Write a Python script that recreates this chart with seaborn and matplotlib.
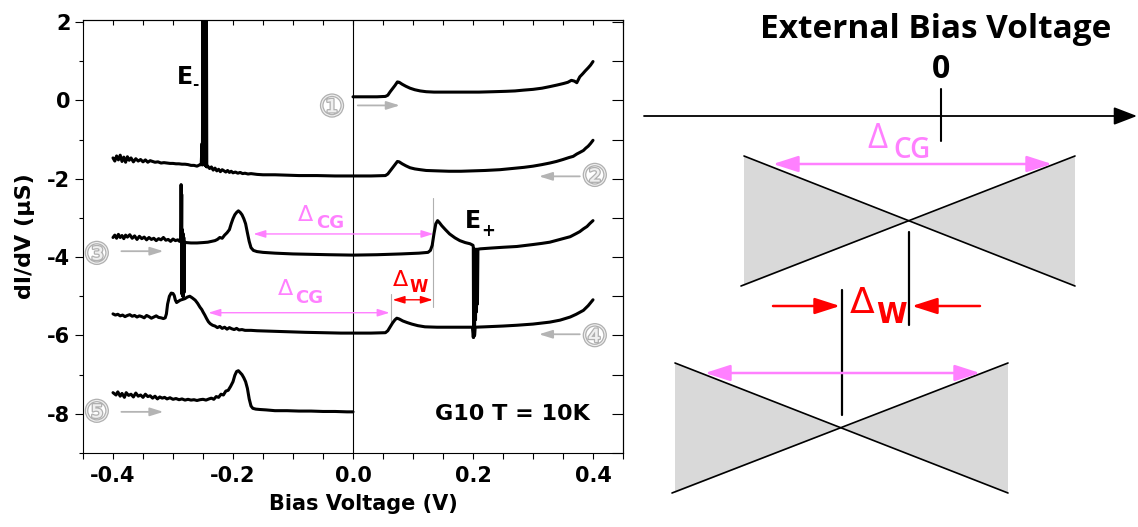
import numpy as np
import pandas as pd
import matplotlib
matplotlib.use("Agg")
import matplotlib.pyplot as plt
import matplotlib.patheffects as pe
from matplotlib.ticker import MultipleLocator, FormatStrFormatter
import seaborn as sns

sns.set_theme(style="white")
plt.rcParams["font.family"] = ["DejaVu Sans"]
plt.rcParams["axes.unicode_minus"] = False
for key in ("text.color", "axes.labelcolor", "xtick.color", "ytick.color", "axes.edgecolor"):
    plt.rcParams[key] = "black"

# ---------------- dI/dV spectra (bias in V, conductance in uS, offset) ----------------
curve1_v = [0.000, 0.020, 0.040, 0.054, 0.058, 0.062, 0.066, 0.070, 0.074, 0.077,
            0.082, 0.088, 0.095, 0.103, 0.112, 0.122, 0.135, 0.150, 0.170, 0.190,
            0.210, 0.234, 0.255, 0.270, 0.284, 0.300, 0.315, 0.328, 0.340, 0.351,
            0.358, 0.364, 0.369, 0.373, 0.378, 0.383, 0.387, 0.392, 0.396, 0.400]
curve1_g = [0.09, 0.09, 0.09, 0.10, 0.13, 0.22, 0.30, 0.38, 0.47, 0.46,
            0.41, 0.36, 0.31, 0.27, 0.24, 0.22, 0.21, 0.21, 0.21, 0.21,
            0.21, 0.22, 0.23, 0.24, 0.26, 0.28, 0.31, 0.35, 0.39, 0.43,
            0.46, 0.51, 0.49, 0.45, 0.60, 0.68, 0.75, 0.83, 0.90, 0.99]

curve2_v = [-0.400, -0.397, -0.394, -0.391, -0.388, -0.385, -0.382, -0.379, -0.376, -0.373,
            -0.370, -0.366, -0.362, -0.358, -0.354, -0.350, -0.346, -0.342, -0.338, -0.334,
            -0.330, -0.325, -0.320, -0.315, -0.310, -0.305, -0.300, -0.295, -0.290, -0.285,
            -0.280, -0.275, -0.270, -0.265, -0.260, -0.256, -0.253,
            -0.2515, -0.2510, -0.2500, -0.2493, -0.2486, -0.2479, -0.2472, -0.2465, -0.2458,
            -0.2451, -0.2444, -0.2437,
            -0.242, -0.239, -0.236, -0.233, -0.230, -0.227, -0.224, -0.221, -0.218, -0.215,
            -0.212, -0.209, -0.206, -0.203, -0.200, -0.196, -0.192, -0.188, -0.184, -0.180,
            -0.175, -0.170, -0.160, -0.150, -0.130, -0.110, -0.090, -0.060, -0.030, 0.000,
            0.030, 0.054, 0.058, 0.062, 0.066, 0.070, 0.074, 0.077, 0.082, 0.088,
            0.095, 0.103, 0.112, 0.122, 0.140, 0.160, 0.180, 0.200, 0.220, 0.245,
            0.265, 0.285, 0.300, 0.315, 0.328, 0.339, 0.350, 0.360, 0.367, 0.373,
            0.378, 0.384, 0.388, 0.392, 0.396, 0.400]
curve2_g = [-1.47, -1.55, -1.42, -1.52, -1.40, -1.56, -1.45, -1.58, -1.44, -1.53,
            -1.47, -1.57, -1.49, -1.55, -1.51, -1.57, -1.52, -1.58, -1.54, -1.56,
            -1.58, -1.57, -1.60, -1.59, -1.60, -1.61, -1.61, -1.62, -1.62, -1.63,
            -1.63, -1.64, -1.66, -1.66, -1.68, -1.65, -1.64,
            -1.10, -1.65, 3.00, -1.62, 3.00, -1.64, 3.00, -1.66, 3.00,
            -1.68, 3.00, -1.70,
            -1.68, -1.74, -1.70, -1.78, -1.73, -1.80, -1.76, -1.82, -1.77, -1.80,
            -1.83, -1.79, -1.84, -1.81, -1.85, -1.83, -1.86, -1.84, -1.87, -1.86,
            -1.88, -1.87, -1.89, -1.90, -1.90, -1.91, -1.92, -1.92, -1.93, -1.93,
            -1.93, -1.92, -1.88, -1.80, -1.72, -1.64, -1.56, -1.57, -1.62, -1.67,
            -1.72, -1.75, -1.77, -1.79, -1.80, -1.81, -1.81, -1.80, -1.79, -1.77,
            -1.74, -1.71, -1.68, -1.64, -1.60, -1.56, -1.51, -1.46, -1.43, -1.37,
            -1.33, -1.28, -1.22, -1.17, -1.10, -1.02]

curve3_v = [-0.400, -0.397, -0.394, -0.391, -0.388, -0.385, -0.382, -0.379, -0.376, -0.372,
            -0.368, -0.364, -0.360, -0.356, -0.352, -0.348, -0.344, -0.340, -0.336, -0.332,
            -0.328, -0.324, -0.320, -0.316, -0.312, -0.308, -0.304, -0.300, -0.296, -0.292,
            -0.289, -0.287,
            -0.2865, -0.2860, -0.2855, -0.2850, -0.2845, -0.2838, -0.2832, -0.2826, -0.2820,
            -0.2814, -0.2808,
            -0.278, -0.270, -0.260, -0.250, -0.242, -0.236, -0.230, -0.226, -0.222, -0.218,
            -0.214, -0.210, -0.206, -0.203, -0.200, -0.197, -0.194, -0.191, -0.188, -0.185,
            -0.182, -0.179, -0.176, -0.173, -0.170, -0.166, -0.160, -0.150, -0.130, -0.100,
            -0.070, -0.040, 0.000, 0.040, 0.080, 0.110, 0.125, 0.129, 0.132, 0.135,
            0.138, 0.141, 0.144, 0.148, 0.154, 0.161, 0.170, 0.178, 0.187, 0.195,
            0.200,
            0.2005, 0.2010, 0.2018, 0.2026, 0.2034, 0.2042, 0.2050, 0.2058, 0.2066, 0.2074,
            0.2082,
            0.212, 0.230, 0.250, 0.273, 0.300, 0.315, 0.328, 0.345, 0.362, 0.372,
            0.378, 0.384, 0.390, 0.395, 0.400]
curve3_g = [-3.50, -3.44, -3.52, -3.42, -3.50, -3.45, -3.53, -3.44, -3.49, -3.43,
            -3.52, -3.46, -3.55, -3.47, -3.53, -3.49, -3.56, -3.50, -3.55, -3.52,
            -3.58, -3.53, -3.56, -3.50, -3.57, -3.55, -3.60, -3.54, -3.58, -3.56,
            -3.60, -3.58,
            -2.15, -3.60, -2.40, -4.95, -3.30, -5.00, -3.40, -5.00, -3.50,
            -4.90, -3.62,
            -3.63, -3.64, -3.64, -3.63, -3.62, -3.60, -3.58, -3.55, -3.50, -3.52,
            -3.44, -3.38, -3.30, -3.15, -3.02, -2.92, -2.86, -2.82, -2.86, -2.92,
            -3.02, -3.15, -3.38, -3.60, -3.76, -3.83, -3.86, -3.88, -3.90, -3.92,
            -3.93, -3.94, -3.95, -3.94, -3.92, -3.90, -3.88, -3.83, -3.70, -3.40,
            -3.15, -3.07, -3.12, -3.20, -3.30, -3.41, -3.51, -3.58, -3.63, -3.66,
            -3.70,
            -3.75, -6.05, -3.80, -6.00, -3.80, -5.60, -3.80, -5.40, -3.80, -5.20,
            -3.80,
            -3.79, -3.77, -3.75, -3.73, -3.68, -3.65, -3.62, -3.55, -3.48, -3.40,
            -3.35, -3.28, -3.22, -3.14, -3.07]

curve4_v = [-0.400, -0.396, -0.392, -0.388, -0.384, -0.380, -0.376, -0.372, -0.368, -0.364,
            -0.360, -0.356, -0.352, -0.348, -0.344, -0.340, -0.336, -0.332, -0.328, -0.324,
            -0.320, -0.316, -0.313, -0.311, -0.309, -0.306, -0.303, -0.300, -0.298, -0.296,
            -0.294, -0.291, -0.288, -0.284, -0.280, -0.276, -0.272, -0.268, -0.263, -0.259,
            -0.255, -0.252, -0.250, -0.247, -0.244, -0.241, -0.238, -0.234, -0.230, -0.226,
            -0.222, -0.218, -0.214, -0.210, -0.206, -0.202, -0.198, -0.194, -0.190, -0.185,
            -0.180, -0.170, -0.160, -0.140, -0.120, -0.100, -0.080, -0.050, -0.020, 0.000,
            0.030, 0.054, 0.058, 0.062, 0.066, 0.070, 0.073, 0.077, 0.083, 0.090,
            0.098, 0.108, 0.120, 0.140, 0.160, 0.180, 0.199,
            0.2005, 0.2015, 0.2025, 0.2035,
            0.220, 0.250, 0.273, 0.300, 0.328, 0.345, 0.362, 0.372, 0.384, 0.392,
            0.400]
curve4_g = [-5.45, -5.48, -5.46, -5.50, -5.48, -5.52, -5.49, -5.47, -5.51, -5.49,
            -5.53, -5.50, -5.52, -5.55, -5.49, -5.52, -5.56, -5.53, -5.50, -5.54,
            -5.55, -5.57, -5.55, -5.45, -5.20, -5.00, -4.92, -4.93, -4.98, -5.10,
            -5.16, -5.13, -5.10, -5.08, -5.06, -5.02, -5.00, -5.04, -5.10, -5.18,
            -5.28, -5.34, -5.40, -5.48, -5.57, -5.65, -5.70, -5.74, -5.76, -5.80,
            -5.77, -5.82, -5.79, -5.84, -5.80, -5.83, -5.85, -5.82, -5.86, -5.85,
            -5.87, -5.87, -5.88, -5.89, -5.90, -5.91, -5.92, -5.93, -5.94, -5.94,
            -5.94, -5.93, -5.88, -5.78, -5.68, -5.60, -5.56, -5.58, -5.63, -5.67,
            -5.71, -5.75, -5.78, -5.79, -5.79, -5.79, -5.79,
            -6.05, -5.80, -6.00, -5.79,
            -5.78, -5.76, -5.74, -5.71, -5.66, -5.61, -5.53, -5.46, -5.36, -5.24,
            -5.09]

curve5_v = [-0.400, -0.395, -0.392, -0.388, -0.385, -0.381, -0.378, -0.374, -0.370, -0.366,
            -0.362, -0.358, -0.354, -0.350, -0.346, -0.342, -0.338, -0.334, -0.330, -0.326,
            -0.322, -0.318, -0.314, -0.310, -0.305, -0.300, -0.295, -0.290, -0.285, -0.280,
            -0.275, -0.270, -0.265, -0.260, -0.255, -0.250, -0.245, -0.240, -0.236, -0.232,
            -0.228, -0.224, -0.220, -0.216, -0.212, -0.208, -0.204, -0.200, -0.197, -0.194,
            -0.191, -0.188, -0.185, -0.182, -0.179, -0.176, -0.173, -0.170, -0.167, -0.162,
            -0.155, -0.145, -0.130, -0.110, -0.090, -0.070, -0.050, -0.030, -0.010, 0.000]
curve5_g = [-7.46, -7.52, -7.44, -7.55, -7.48, -7.58, -7.46, -7.53, -7.50, -7.57,
            -7.47, -7.55, -7.52, -7.58, -7.50, -7.56, -7.54, -7.60, -7.55, -7.62,
            -7.57, -7.60, -7.58, -7.62, -7.59, -7.63, -7.61, -7.64, -7.62, -7.65,
            -7.63, -7.65, -7.64, -7.66, -7.64, -7.63, -7.65, -7.62, -7.60, -7.63,
            -7.56, -7.58, -7.50, -7.52, -7.42, -7.40, -7.30, -7.18, -7.02, -6.92,
            -6.90, -6.95, -7.00, -7.08, -7.18, -7.35, -7.62, -7.80, -7.86, -7.88,
            -7.89, -7.90, -7.92, -7.92, -7.93, -7.93, -7.94, -7.94, -7.95, -7.95]

spectra = [(curve1_v, curve1_g), (curve2_v, curve2_g), (curve3_v, curve3_g),
           (curve4_v, curve4_g), (curve5_v, curve5_g)]

# sweep labels and sweep directions
sweep_labels = ["\u2460", "\u2461", "\u2462", "\u2463", "\u2464"]
sweep_label_pos = [(-0.035, -0.20), (0.403, -1.97), (-0.427, -3.96), (0.403, -6.06), (-0.427, -7.99)]
sweep_arrows = [((0.008, -0.13), (0.078, -0.13)),
                ((0.378, -1.94), (0.310, -1.94)),
                ((-0.386, -3.85), (-0.316, -3.85)),
                ((0.378, -5.97), (0.310, -5.97)),
                ((-0.386, -7.95), (-0.316, -7.95))]

# gap markers (bias in V, conductance level of the arrow)
gap_cg_upper = (-0.166, 0.134, -3.41)
gap_cg_lower = (-0.241, 0.061, -5.42)
gap_w = (0.066, 0.133, -5.09)
guide_upper = (0.134, -2.49, -5.28)
guide_lower = (0.063, -4.93, -5.70)

x_ticks = [-0.4, -0.2, 0.0, 0.2, 0.4]
y_ticks = [-8, -6, -4, -2, 0, 2]

PINK = "#ff80ff"
RED = "#ff0000"
GREY = "#b4b4b4"

fig = plt.figure(figsize=(11.38, 5.27), dpi=100)
ax = fig.add_axes([83 / 1138, 1 - 453 / 527, 540 / 1138, 433 / 527])

for v, g in spectra:
    sns.lineplot(x=v, y=g, ax=ax, color="black", lw=2.2, estimator=None,
                 sort=False, legend=False)

ax.set_xlim(-0.45, 0.45)
ax.set_ylim(-9, 2.05)
ax.axvline(0, color="black", lw=0.8)

ax.xaxis.set_minor_locator(MultipleLocator(0.05))
ax.set_xticks(x_ticks)
ax.xaxis.set_major_formatter(FormatStrFormatter("%.1f"))
ax.yaxis.set_minor_locator(MultipleLocator(1))
ax.set_yticks(y_ticks)
ax.set_yticklabels([str(t) for t in y_ticks])
for lab in ax.get_xticklabels() + ax.get_yticklabels():
    lab.set_fontweight("bold")
    lab.set_fontsize(15)

ax.tick_params(axis="x", which="both", direction="out", length=4, width=0.8,
               bottom=True, top=False, pad=5)
ax.tick_params(axis="y", which="major", direction="out", length=6, width=0.8,
               left=True, right=False, pad=3)
ax.tick_params(axis="y", which="minor", direction="out", length=3, width=0.8,
               left=True, right=False)

top = ax.secondary_xaxis("top")
top.xaxis.set_major_locator(MultipleLocator(0.05))
top.tick_params(axis="x", which="both", direction="in", length=3.6, width=0.8, labeltop=False)
right = ax.secondary_yaxis("right")
right.yaxis.set_major_locator(MultipleLocator(1))
right.tick_params(axis="y", which="both", direction="in", length=8, width=0.8, labelright=False)
for axis_obj in (ax, top, right):
    for sp in axis_obj.spines.values():
        sp.set_linewidth(0.8)
        sp.set_color("black")

ax.set_xlabel("Bias Voltage (V)", fontsize=15, fontweight="bold")
ax.set_ylabel("dI/dV (\u03bcS)", fontsize=16, fontweight="bold")
ax.xaxis.set_label_coords(0.52, -0.095)
ax.yaxis.set_label_coords(-0.088, 0.5)

# peak labels
ax.text(-0.294, 0.41, "E", fontsize=17, fontweight="bold", va="baseline", ha="left")
ax.text(-0.268, 0.30, "-", fontsize=11, fontweight="bold", va="baseline", ha="left")
ax.text(0.187, -3.26, "E", fontsize=17, fontweight="bold", va="baseline", ha="left")
ax.text(0.214, -3.33, "+", fontsize=12, fontweight="bold", va="center", ha="left")

ax.text(0.395, -8.16, "G10 T = 10K", fontsize=16, fontweight="bold", ha="right", va="baseline")

# sweep numbers and arrows
for lab, (lx, ly) in zip(sweep_labels, sweep_label_pos):
    ax.text(lx, ly, lab, fontsize=21, color="#efefef", ha="center", va="center",
            family=["DejaVu Sans", "Noto Sans CJK SC"],
            path_effects=[pe.withStroke(linewidth=1.8, foreground="#b0b0b0")])
for (x0, y0), (x1, y1) in sweep_arrows:
    ax.annotate("", xy=(x1, y1), xytext=(x0, y0),
                arrowprops=dict(arrowstyle="-|>,head_length=0.8,head_width=0.25",
                                color=GREY, lw=1.3, shrinkA=0, shrinkB=0,
                                mutation_scale=10))

# gap guides and arrows
for gx, gy0, gy1 in (guide_upper, guide_lower):
    ax.plot([gx, gx], [gy0, gy1], color="#b0b0b0", lw=0.8, zorder=1)
for (x0, x1, y), col in ((gap_cg_upper, PINK), (gap_cg_lower, PINK), (gap_w, RED)):
    ax.annotate("", xy=(x1, y), xytext=(x0, y),
                arrowprops=dict(arrowstyle="<|-|>,head_length=0.8,head_width=0.25",
                                color=col, lw=1.0, shrinkA=0, shrinkB=0,
                                mutation_scale=9))


def delta_label(axis, x_d, y_d, x_s, y_s, sub, color, size_d, size_s, dfont=None,
                weight_d="normal", weight_s="bold"):
    axis.text(x_d, y_d, "\u0394", color=color, fontsize=size_d, ha="left",
              va="baseline", fontweight=weight_d, family=dfont)
    axis.text(x_s, y_s, sub, color=color, fontsize=size_s, ha="left",
              va="baseline", fontweight=weight_s, family=dfont)


delta_label(ax, -0.0917, -3.07, -0.062, -3.25, "CG", PINK, 16, 13)
delta_label(ax, -0.125, -4.98, -0.096, -5.18, "CG", PINK, 16, 13)
delta_label(ax, 0.0667, -4.73, 0.094, -4.90, "W", RED, 16, 12)

# ---------------- schematic: Dirac cones along the bias axis ----------------
sx = fig.add_axes([640 / 1138, 0, 498 / 1138, 1])
sx.set_xlim(640, 1138)
sx.set_ylim(527, 0)
sx.axis("off")

bias_axis = (644, 1137, 116)
zero_mark = (941, 89, 141)
cone_upper = (744, 1075, 156, 286)
cone_lower = (675, 1008, 363, 493)
marker_upper = (909, 232, 325)
marker_lower = (842, 290, 415)
span_upper = (773, 1052, 164)
span_lower = (705, 980, 373)
w_arrows = [((773, 306), (840, 306)), ((980, 306), (912, 306))]

sx.annotate("", xy=(bias_axis[1], bias_axis[2]), xytext=(bias_axis[0], bias_axis[2]),
            arrowprops=dict(arrowstyle="-|>,head_length=1.3,head_width=0.5",
                            color="black", lw=1.3, shrinkA=0, shrinkB=0,
                            mutation_scale=11))
sx.plot([zero_mark[0]] * 2, zero_mark[1:], color="black", lw=1.5)
sx.text(zero_mark[0], 78, "0", fontsize=23, fontweight="bold", ha="center",
        va="baseline", family="Open Sans")
sx.text(936, 38, "External Bias Voltage", fontsize=24, fontweight="bold",
        ha="center", va="baseline", family="Open Sans")

for x0, x1, yt, yb in (cone_upper, cone_lower):
    xc, yc = (x0 + x1) / 2, (yt + yb) / 2
    sx.fill([x0, xc, x0], [yt, yc, yb], color="#d9d9d9", lw=0)
    sx.fill([x1, xc, x1], [yt, yc, yb], color="#d9d9d9", lw=0)
    sx.plot([x0, x1], [yt, yb], color="black", lw=1.2)
    sx.plot([x0 - 3, x1], [yb, yt], color="black", lw=1.2)

for mx, my0, my1 in (marker_upper, marker_lower):
    sx.plot([mx, mx], [my0, my1], color="black", lw=1.6)

for x0, x1, y in (span_upper, span_lower):
    sx.annotate("", xy=(x1, y), xytext=(x0, y),
                arrowprops=dict(arrowstyle="<|-|>,head_length=1.4,head_width=0.45",
                                color=PINK, lw=1.8, shrinkA=0, shrinkB=0,
                                mutation_scale=11))
for (x0, y0), (x1, y1) in w_arrows:
    sx.annotate("", xy=(x1, y1), xytext=(x0, y0),
                arrowprops=dict(arrowstyle="-|>,head_length=1.4,head_width=0.45",
                                color=RED, lw=1.8, shrinkA=0, shrinkB=0,
                                mutation_scale=11))

delta_label(sx, 867, 148, 893, 158, "CG", PINK, 25, 20, dfont="Open Sans",
            weight_s="semibold")
delta_label(sx, 850, 313, 876, 323, "W", RED, 26, 20)

fig.savefig("out.png", dpi=100)
